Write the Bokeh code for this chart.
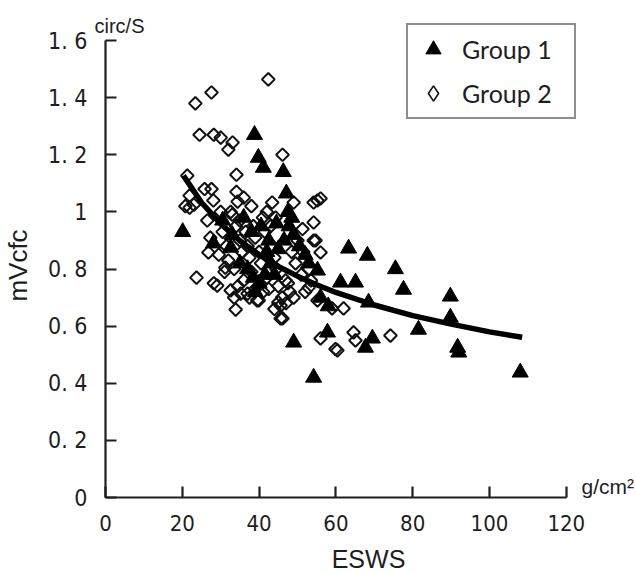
import math
from bokeh.plotting import figure
from bokeh.models import (Range1d, FixedTicker, Legend, LegendItem, Label,
                          ColumnDataSource)
from bokeh.embed import file_html
from bokeh.resources import INLINE

# ---------------- data ----------------
x_ticks = [0, 20, 40, 60, 80, 100, 120]
y_ticks = [0, 0.2, 0.4, 0.6, 0.8, 1, 1.2, 1.4, 1.6]
y_tick_labels = ["0", "0. 2", "0. 4", "0. 6", "0. 8", "1", "1. 2", "1. 4", "1. 6"]

# Group 1 (filled triangles): ESWS, mVcfc
g1_esws = [20.1, 38.8, 39.8, 41.1, 46.3, 47.1, 47.5, 47.8, 28.1, 32.6,
           35.0, 37.0, 38.5, 40.0, 41.5, 39.0, 43.0, 45.0, 46.5, 49.0,
           50.5, 52.0, 52.9, 55.2, 36.0, 38.0, 40.5, 42.5, 44.0, 30.5,
           33.0, 49.0, 54.2, 57.8, 61.2, 65.1, 63.3, 68.2, 68.5, 69.5,
           67.7, 75.5, 77.6, 81.5, 89.8, 89.8, 91.7, 92.0, 108.0, 56.0,
           58.0, 44.5, 48.5, 42.0]
g1_mvcfc = [0.93, 1.27, 1.19, 1.155, 1.14, 1.065, 1.00, 0.95, 0.89, 0.875,
            0.82, 0.80, 0.77, 0.75, 0.78, 0.72, 0.82, 0.87, 0.90, 0.92,
            0.88, 0.85, 0.82, 0.795, 0.98, 0.93, 0.95, 0.90, 0.78, 0.97,
            0.92, 0.543, 0.42, 0.578, 0.753, 0.753, 0.872, 0.847, 0.683, 0.557,
            0.525, 0.80, 0.728, 0.588, 0.704, 0.63, 0.525, 0.508, 0.438, 0.70,
            0.67, 0.96, 0.98, 0.86]

# Group 2 (open diamonds): ESWS, mVcfc
g2_esws = [23.4, 27.6, 42.4, 24.5, 28.2, 30.0, 33.1, 32.0, 46.1, 34.1,
           21.3, 25.8, 27.6, 34.1, 21.9, 21.9, 28.1, 26.5, 23.7, 28.2,
           43.4, 44.3, 54.2, 55.2, 54.2, 54.2, 33.9, 29.1, 46.1, 45.6,
           39.9, 35.2, 32.6, 56.0, 26.8, 27.3, 31.2, 37.0, 54.7, 56.0,
           52.9, 55.2, 62.0, 59.0, 45.6, 64.6, 65.1, 59.9, 46.9, 45.0,
           74.2, 60.4, 49.0, 56.0, 51.3, 20.8, 23.0, 34.4, 32.6, 30.5,
           31.5, 32.0, 33.5, 34.0, 35.0, 35.5, 36.5, 37.0, 37.5, 38.0,
           36.0, 38.5, 39.0, 40.0, 40.5, 41.0, 41.5, 42.0, 42.5, 43.0,
           43.5, 44.0, 44.5, 45.0, 46.0, 47.0, 48.0, 48.5, 49.5, 50.0,
           51.0, 51.5, 53.0, 37.5, 39.5, 41.0, 35.0, 33.0, 31.0, 29.5,
           30.0, 38.0, 42.0, 36.0, 39.0, 34.5, 33.5, 44.0, 47.5, 49.0,
           52.0, 53.5]
g2_mvcfc = [1.38, 1.418, 1.464, 1.27, 1.27, 1.26, 1.243, 1.218, 1.20, 1.13,
            1.127, 1.08, 1.08, 1.07, 1.057, 1.015, 1.04, 0.97, 0.77, 0.75,
            1.033, 0.98, 1.033, 1.04, 0.963, 0.90, 0.658, 0.742, 0.627, 0.672,
            0.69, 0.714, 0.725, 0.557, 0.858, 0.91, 0.805, 0.714, 0.90, 0.858,
            0.735, 0.69, 0.662, 0.662, 0.627, 0.578, 0.55, 0.52, 0.76, 0.683,
            0.567, 0.515, 1.033, 1.047, 0.94, 1.02, 1.025, 1.036, 1.0, 0.93,
            0.88, 0.83, 0.80, 0.95, 0.90, 0.86, 0.93, 0.88, 0.84, 0.79,
            0.76, 0.95, 0.91, 0.86, 0.82, 0.98, 0.93, 0.77, 0.73, 0.95,
            0.88, 0.84, 0.80, 0.74, 0.70, 0.68, 0.72, 0.86, 0.82, 0.90,
            0.78, 0.86, 0.80, 0.70, 0.69, 0.72, 0.97, 0.99, 0.79, 0.85,
            1.0, 1.02, 1.0, 1.05, 0.73, 0.74, 0.70, 0.66, 0.75, 0.70,
            0.72, 0.76]

# regression curve, points
fit_esws = [20.3, 25, 30, 35, 40, 45, 50, 55, 60, 70, 80, 90, 100, 108.5]
fit_mvcfc = [1.127, 1.033, 0.958, 0.899, 0.850, 0.809, 0.775, 0.745, 0.718,
             0.674, 0.637, 0.607, 0.580, 0.561]

# ---------------- figure ----------------
# the frame fills the canvas; the axes are pinned at x=0 and y=0
p = figure(width=636, height=573,
           x_range=Range1d(-27.344, 138.281), y_range=Range1d(-0.2661, 1.7402),
           output_backend="svg", toolbar_location=None,
           min_border_left=0, min_border_right=0,
           min_border_top=0, min_border_bottom=0)
p.outline_line_color = None
p.xgrid.visible = False
p.ygrid.visible = False
p.background_fill_color = "white"
p.border_fill_color = "white"

tick_font = "DejaVu Sans Condensed"
ink = "#1e1e1e"

for ax in (p.xaxis[0], p.yaxis[0]):
    ax.fixed_location = 0
    ax.axis_line_width = 2.2
    ax.axis_line_color = ink
    ax.major_tick_line_width = 2.2
    ax.major_tick_line_color = ink
    ax.major_tick_in = 11
    ax.major_tick_out = 0
    ax.minor_tick_line_color = None
    ax.major_label_text_font = tick_font
    ax.major_label_text_color = ink

p.xaxis.bounds = (0, 120)
p.yaxis.bounds = (0, 1.6)
p.xaxis.ticker = FixedTicker(ticks=x_ticks)
p.yaxis.ticker = FixedTicker(ticks=y_ticks)
p.yaxis.major_label_overrides = {t: s for t, s in zip(y_ticks, y_tick_labels)}
p.xaxis.major_label_text_font_size = "22px"
p.yaxis.major_label_text_font_size = "23px"
p.yaxis.major_label_standoff = 18
p.xaxis.major_label_standoff = 17

src1 = ColumnDataSource(dict(x=g1_esws, y=g1_mvcfc))
src2 = ColumnDataSource(dict(x=g2_esws, y=g2_mvcfc))

r2 = p.scatter("x", "y", source=src2, marker="square", angle=math.pi / 4,
               size=9, line_color="#111111", line_width=2.0, fill_color=None)
r1 = p.scatter("x", "y", source=src1, marker="triangle", size=16,
               line_color="black", fill_color="black")
p.line(fit_esws, fit_mvcfc, line_color="black", line_width=5.5)

# legend key for the open diamonds (zero size in the plot itself)
r2_key = p.scatter("x", "y", source=src2, marker="diamond", size=0,
                   line_color="#111111", line_width=1.6, fill_color=None)

legend = Legend(items=[LegendItem(label="Group 1", renderers=[r1]),
                       LegendItem(label="Group 2", renderers=[r2_key])],
                location=(406, 454), orientation="vertical",
                padding=5, margin=0, spacing=6,
                glyph_width=40, glyph_height=38,
                label_standoff=9, label_width=107,
                label_text_font="Lato", label_text_font_size="25px",
                label_text_color=ink,
                border_line_color=ink, border_line_width=2,
                background_fill_color="white", background_fill_alpha=1.0)
p.add_layout(legend)

common = dict(text_font="Liberation Sans", text_color=ink)
p.add_layout(Label(x=-2.865, y=1.6509, text="circ/S", text_align="left",
                   text_baseline="alphabetic", text_font_size="20px", **common))
p.add_layout(Label(x=123.96, y=0.0396, text="g/cm\u00b2", text_align="left",
                   text_baseline="alphabetic", text_font_size="21px", **common))
p.add_layout(Label(x=68.49, y=-0.2148, text="ESWS", text_align="center",
                   text_baseline="alphabetic", text_font_size="25px", **common))
p.add_layout(Label(x=-22.91, y=0.8123, text="mVcfc", angle=math.pi / 2,
                   text_align="center", text_baseline="middle",
                   text_font_size="26px", **common))

open("out.html", "w").write(file_html(p, INLINE))
